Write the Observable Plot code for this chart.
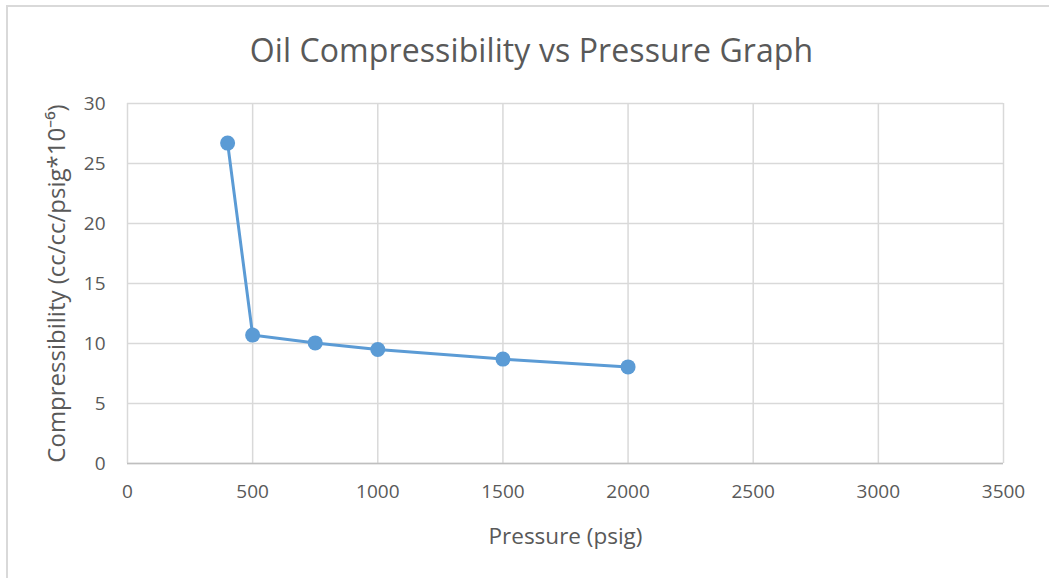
<!DOCTYPE html>
<html>
<head>
<meta charset="utf-8">
<script src="https://cdn.jsdelivr.net/npm/d3@7"></script>
<script src="https://cdn.jsdelivr.net/npm/@observablehq/plot@0.6"></script>
<style>
  html, body { margin: 0; padding: 0; background: #fff; }
  #chart { position: relative; width: 1049px; height: 578px; overflow: hidden; }
  #frame { position: absolute; left: 6px; top: 5px; width: 1060px; height: 600px;
           border-left: 2px solid #d9d9d9; border-top: 2px solid #d9d9d9; box-sizing: border-box; }
  #title { position: absolute; left: 0; width: 1063px; top: 28px; text-align: center;
           font-family: "Open Sans", sans-serif; font-size: 32px; line-height: 44px; color: #595959; letter-spacing: 0.1px; }
  #chart svg { position: absolute; left: 0; top: 0; }
</style>
</head>
<body>
<div id="chart">
  <div id="frame"></div>
  <div id="title">Oil Compressibility vs Pressure Graph</div>
</div>
<script>
// Measured oil compressibility at each pressure step
const pressure = [400, 500, 750, 1000, 1500, 2000];
const compressibility = [26.7, 10.7, 10.05, 9.5, 8.7, 8.05];
const xTicks = [0, 500, 1000, 1500, 2000, 2500, 3000, 3500];
const yTicks = [0, 5, 10, 15, 20, 25, 30];

const rows = pressure.map((p, i) => ({pressure: p, value: compressibility[i]}));
const blue = "#5b9bd5";
const font = "Open Sans, sans-serif";

const chart = Plot.plot({
  width: 1049,
  height: 578,
  marginLeft: 127,
  marginRight: 46,
  marginTop: 103,
  marginBottom: 115,
  style: {fontFamily: font, fontSize: "19px", color: "#595959", background: "transparent"},
  x: {domain: [0, 3500]},
  y: {domain: [0, 30]},
  marks: [
    Plot.gridX(xTicks, {stroke: "#d9d9d9", strokeOpacity: 1, strokeWidth: 1.5}),
    Plot.gridY(yTicks, {stroke: "#d9d9d9", strokeOpacity: 1, strokeWidth: 1.5}),
    Plot.ruleY([0], {stroke: "#bfbfbf", strokeWidth: 1.5}),
    Plot.axisX(xTicks, {tickSize: 0, tickPadding: 21, fill: "#595959", tickFormat: d3.format("d"),
      label: "Pressure (psig)", labelAnchor: "center", labelArrow: "none", labelOffset: 80}),
    Plot.axisY(yTicks, {tickSize: 0, tickPadding: 22, fill: "#595959", tickFormat: d3.format("d"),
      label: "Compressibility (cc/cc/psig*10⁻⁶)", labelAnchor: "center", labelArrow: "none", labelOffset: 80}),
    Plot.line(rows, {x: "pressure", y: "value", stroke: blue, strokeWidth: 3}),
    Plot.dot(rows, {x: "pressure", y: "value", r: 7.5, fill: blue, stroke: "none"})
  ]
});
chart.querySelectorAll("[aria-label='x-axis label'] text").forEach(t => { t.style.fontSize = "22.5px"; });
chart.querySelectorAll("[aria-label='y-axis label'] text").forEach(t => { t.style.fontSize = "24px"; });
document.getElementById("chart").appendChild(chart);
</script>
</body>
</html>
